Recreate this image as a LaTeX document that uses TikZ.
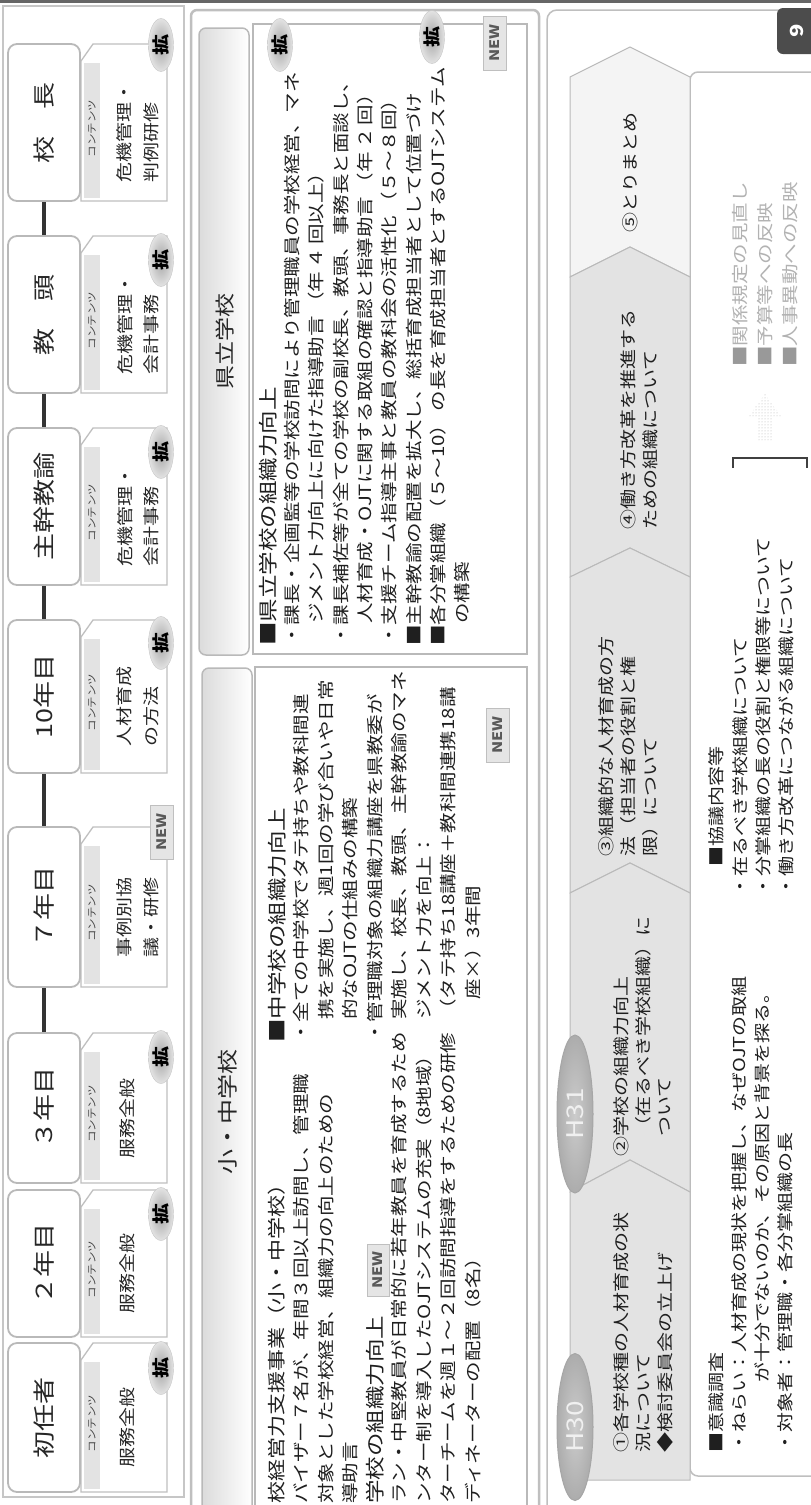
\documentclass[tikz,border=0pt]{standalone}
\usepackage{fontspec}
\setmainfont{Noto Sans CJK JP}
\usetikzlibrary{shapes.geometric,patterns}
\newcommand\cunit[6]{%
  \pgfmathsetmacro\myC{(#2+#3)/2}%
  \pgfmathsetmacro\myH{#3-#2}%
  \draw[cbox] (93,#2) -- (167,#2) -- (167,#3) -- (81,#3) -- (81,#2+17) -- cycle;
  \fill[tabfill] (84,#2+19) rectangle (100,#3-3);
  \node[ttl,minimum width=\myH pt] (#1) at (44,\myC) {#4};
  \node[tabt] (#1t) at (92,\myC+6) {コンテンツ};
  \node[ctx] (#1c) at (#6,\myC+10) {#5};
}
\begin{document}
\begin{tikzpicture}[x=1pt,y=-1pt,
 R/.style={rotate=90,yscale=0.82},
 ln/.style={R,inner sep=0pt,anchor=west,text=black!88,font=\fontsize{20.5}{24}\selectfont},
 hd/.style={ln,font=\fontsize{23.5}{28}\selectfont},
 hdb/.style={ln,font=\fontsize{22}{26}\selectfont},
 tlt/.style={ln,font=\fontsize{20}{24}\selectfont},
 gry/.style={ln,text=gray!60,font=\fontsize{20.5}{24}\selectfont},
 ttl/.style={R,draw=gray!55,line width=1.8pt,fill=white,rounded corners=9pt,minimum height=87.8pt,inner sep=0pt,text=black!85,font=\fontsize{27}{30}\selectfont},
 cbox/.style={draw=gray!50,line width=1.3pt,fill=white},
 tabfill/.style={fill=gray!22},
 tabt/.style={R,inner sep=0pt,text=black!75,font=\fontsize{11.5}{12}\selectfont},
 ctx/.style={R,inner sep=0pt,align=left,text=black!85,font=\fontsize{20}{32.3}\selectfont},
 kaku/.style={R,ellipse,minimum width=53pt,minimum height=30.5pt,inner sep=0pt,draw=gray!45,inner color=gray!72,outer color=gray!22,text=black,font=\bfseries\fontsize{21}{21}\selectfont},
 newb/.style={R,rectangle,minimum width=54pt,minimum height=29pt,inner sep=0pt,fill=gray!20,draw=gray!50,line width=0.8pt,text=black!65,font=\bfseries\fontsize{16}{16}\selectfont},
 conn/.style={line width=4.5pt,draw=black!80},
 chev/.style={fill=gray!22,draw=gray!55,line width=1pt},
 hov/.style={R,ellipse,minimum height=43.9pt,inner sep=0pt,draw=gray!70,line width=1pt,inner color=gray!40,outer color=gray!65,text=gray!12,font=\fontsize{28}{28}\selectfont},
]
\useasboundingbox (0,0) rectangle (811,1505);
\clip (0,0) rectangle (811,1505);
\fill[white] (0,0) rectangle (811,1505);

% ---------- frames ----------
\draw[gray!45,line width=1.5pt] (3,6) rectangle (184,1497);
\draw[gray!50,line width=2.5pt,rounded corners=6pt] (191,10) rectangle (539,1540);
\draw[gray!50,line width=1.5pt,rounded corners=10pt,fill=white] (547,10) rectangle (840,1540);

% ---------- school panels ----------
\path[draw=gray!55,line width=1.5pt,left color=gray!28,right color=white,rounded corners=7pt] (199,28) rectangle (249,655);
\draw[gray!55,line width=2pt,fill=white] (253,24) rectangle (527,654);
\path[draw=gray!55,line width=1.5pt,left color=gray!28,right color=white,rounded corners=7pt] (202,668) rectangle (252,1540);
\draw[gray!55,line width=2pt,fill=white] (255,667) rectangle (527,1540);
\node[R,inner sep=0pt,text=black!85,font=\fontsize{24}{26}\selectfont] (hk) at (225,341) {県立学校};
\node[R,inner sep=0pt,text=black!85,font=\fontsize{25}{26}\selectfont] (hs) at (228,1112) {小・中学校};

% ---------- career units ----------
\cunit{c1}{1343}{1492}{初任者}{服務全般}{127}
\cunit{c2}{1190}{1337}{２年目}{服務全般}{127}
\cunit{c3}{1033}{1183}{３年目}{服務全般}{127}
\cunit{c4}{827}{987}{７年目}{事例別協\\議・研修}{138}
\cunit{c5}{620}{773}{10年目}{人材育成\\の方法}{138}
\cunit{c6}{428}{585}{主幹教諭}{危機管理・\\会計事務}{138}
\cunit{c7}{236}{393}{教　頭}{危機管理・\\会計事務}{138}
\cunit{c8}{44}{201}{校　長}{危機管理・\\判例研修}{138}
\draw[conn] (c3.east) -- (c4.west);
\draw[conn] (c4.east) -- (c5.west);
\draw[conn] (c5.east) -- (c6.west);
\draw[conn] (c6.east) -- (c7.west);
\draw[conn] (c7.east) -- (c8.west);
\node[kaku] (b1) at (161,1368) {拡};
\node[kaku] (b2) at (161,1214) {拡};
\node[kaku] (b3) at (161,1057) {拡};
\node[newb] (b4) at (162,832) {NEW};
\node[kaku] (b5) at (161,643) {拡};
\node[kaku] (b6) at (161,452) {拡};
\node[kaku] (b7) at (161,260) {拡};
\node[kaku] (b8) at (161,45) {拡};

% ---------- prefectural schools text ----------
\node[hd] (k1) at (268,646) {■県立学校の組織力向上};
\node[ln] (k2) at (292.3,646) {・課長・企画監等の学校訪問により管理職員の学校経営、マネ};
\node[ln] (k3) at (316.6,624) {ジメント力向上に向けた指導助言\,（年\,４\,回以上）};
\node[ln] (k4) at (340.9,646) {・課長補佐等が全ての学校の副校長、教頭、事務長と面談し、};
\node[ln] (k5) at (365.2,624) {人材育成・OJTに関する取組の確認と指導助言\,（年\,２\,回）};
\node[ln] (k6) at (389.5,646) {・支援チーム指導主事と教員の教科会の活性化\,（５～８回）};
\node[ln] (k7) at (413.8,646) {■主幹教諭の配置を拡大し、総括育成担当者として位置づけ};
\node[ln] (k8) at (438.1,646) {■各分掌組織\,（５～10）\,の長を育成担当者とするOJTシステム};
\node[ln] (k9) at (462.4,624) {の構築};
\node[kaku] (pb1) at (280,45) {拡};
\node[kaku] (pb2) at (432,37) {拡};
\node[newb] (pn1) at (495,43) {NEW};

% ---------- elementary / junior high text ----------
\node[hdb] (s1) at (277,1504) {校経営力支援事業（小・中学校）};
\node[ln] (s2) at (301.5,1504) {バイザー７名が、年間３回以上訪問し、管理職};
\node[ln] (s3) at (326,1504) {対象とした学校経営、組織力の向上のための};
\node[ln] (s4) at (350.5,1504) {導助言};
\node[hd] (s5) at (375,1504) {学校の組織力向上};
\node[ln] (s6) at (399.5,1504) {ラン・中堅教員が日常的に若年教員を育成するため};
\node[ln] (s7) at (424,1504) {ンター制を導入したOJTシステムの充実（8地域）};
\node[ln] (s8) at (448.5,1504) {ターチームを週１～２回訪問指導をするための研修};
\node[ln] (s9) at (473,1504) {ディネーターの配置（8名）};
\node[newb,minimum height=26.8pt,minimum width=52pt] (sn1) at (378,1270) {NEW};

\node[hd] (m1) at (277,1043) {■中学校の組織力向上};
\node[ln] (m2) at (301.5,1043) {・全ての中学校でタテ持ちや教科間連};
\node[ln] (m3) at (326,1020) {携を実施し、週1回の学び合いや日常};
\node[ln] (m4) at (350.5,1020) {的なOJTの仕組みの構築};
\node[ln] (m5) at (375,1043) {・管理職対象の組織力講座を県教委が};
\node[ln] (m6) at (399.5,1020) {実施し、校長、教頭、主幹教諭のマネ};
\node[ln] (m7) at (424,1020) {ジメント力を向上：};
\node[ln] (m8) at (448.5,1020) {（タテ持ち18講座＋教科間連携18講};
\node[ln] (m9) at (473,1000) {座×）3年間};
\node[newb] (mn1) at (498,735) {NEW};

% ---------- timeline ----------
\draw[gray!50,line width=1.5pt,rounded corners=8pt,fill=white] (690,72) rectangle (840,1476);
\path[chev,fill=gray!9] (570,77) -- (630,47) -- (690,77) -- (690,277) -- (630,247) -- (570,277) -- cycle;
\path[chev] (570,277) -- (630,247) -- (690,277) -- (690,577) -- (630,548) -- (570,577) -- cycle;
\path[chev] (570,577) -- (630,548) -- (690,577) -- (690,893) -- (630,863) -- (570,893) -- cycle;
\path[chev] (570,893) -- (630,863) -- (690,893) -- (690,1192) -- (630,1160) -- (570,1192) -- cycle;
\path[chev] (570,1192) -- (630,1160) -- (690,1192) -- (690,1480) -- (570,1480) -- cycle;
\node[hov,minimum width=147pt] (h30) at (575,1427) {H30};
\node[hov,minimum width=158pt] (h31) at (575,1114) {H31};

\node[tlt] (t1) at (621,1453) {①各学校種の人材育成の状};
\node[tlt] (t2) at (643,1453) {況について};
\node[tlt] (t3) at (665,1453) {◆検討委員会の立上げ};
\node[tlt] (u1) at (621,1157) {②学校の組織力向上};
\node[tlt] (u2) at (643,1137) {（在るべき学校組織）に};
\node[tlt] (u3) at (665,1137) {ついて};
\node[tlt] (v1) at (606,857) {③組織的な人材育成の方};
\node[tlt] (v2) at (628,857) {法（担当者の役割と権};
\node[tlt] (v3) at (650,857) {限）について};
\node[tlt] (w1) at (628,530) {④働き方改革を推進する};
\node[tlt] (w2) at (650,530) {ための組織について};
\node[tlt] (x1) at (630,233) {⑤とりまとめ};

\node[tlt] (p1) at (716,867) {■協議内容等};
\node[tlt] (p2) at (740,897) {・在るべき学校組織について};
\node[tlt] (p3) at (763,897) {・分掌組織の長の役割と権限等について};
\node[tlt] (p4) at (786,897) {・働き方改革につながる組織について};
\node[tlt] (q1) at (716,1453) {■意識調査};
\node[tlt] (q2) at (739,1453) {・ねらい：人材育成の現状を把握し、なぜOJTの取組};
\node[tlt] (q3) at (762,1383) {が十分でないのか、その原因と背景を探る。};
\node[tlt] (q4) at (785,1453) {・対象者：管理職・各分掌組織の長};

\node[gry] (r1) at (740,367) {{\color{gray!80}■}関係規定の見直し};
\node[gry] (r2) at (765,367) {{\color{gray!80}■}予算等への反映};
\node[gry] (r3) at (790,367) {{\color{gray!80}■}人事異動への反映};

% bracket and arrow
\coordinate (brA) at (733,468);
\coordinate (brB) at (807,468);
\draw[line width=1.5pt,black!75] (brA) -- ++(0,-10) -- ++(74,0) -- (brB);
\fill[pattern=dots,pattern color=gray!60] (758,440) -- (772,440) -- (772,416) -- (781,416) -- (765,394) -- (749,416) -- (758,416) -- cycle;

% page badge and top band
\node[R,fill=black!70,rounded corners=6pt,minimum width=46pt,minimum height=48.8pt,inner sep=0pt,text=white,font=\bfseries\fontsize{22}{22}\selectfont] (pg) at (797,31) {9};
\draw[line width=3pt,black!60] (0,1.5) -- (811,1.5);
\end{tikzpicture}
\end{document}
